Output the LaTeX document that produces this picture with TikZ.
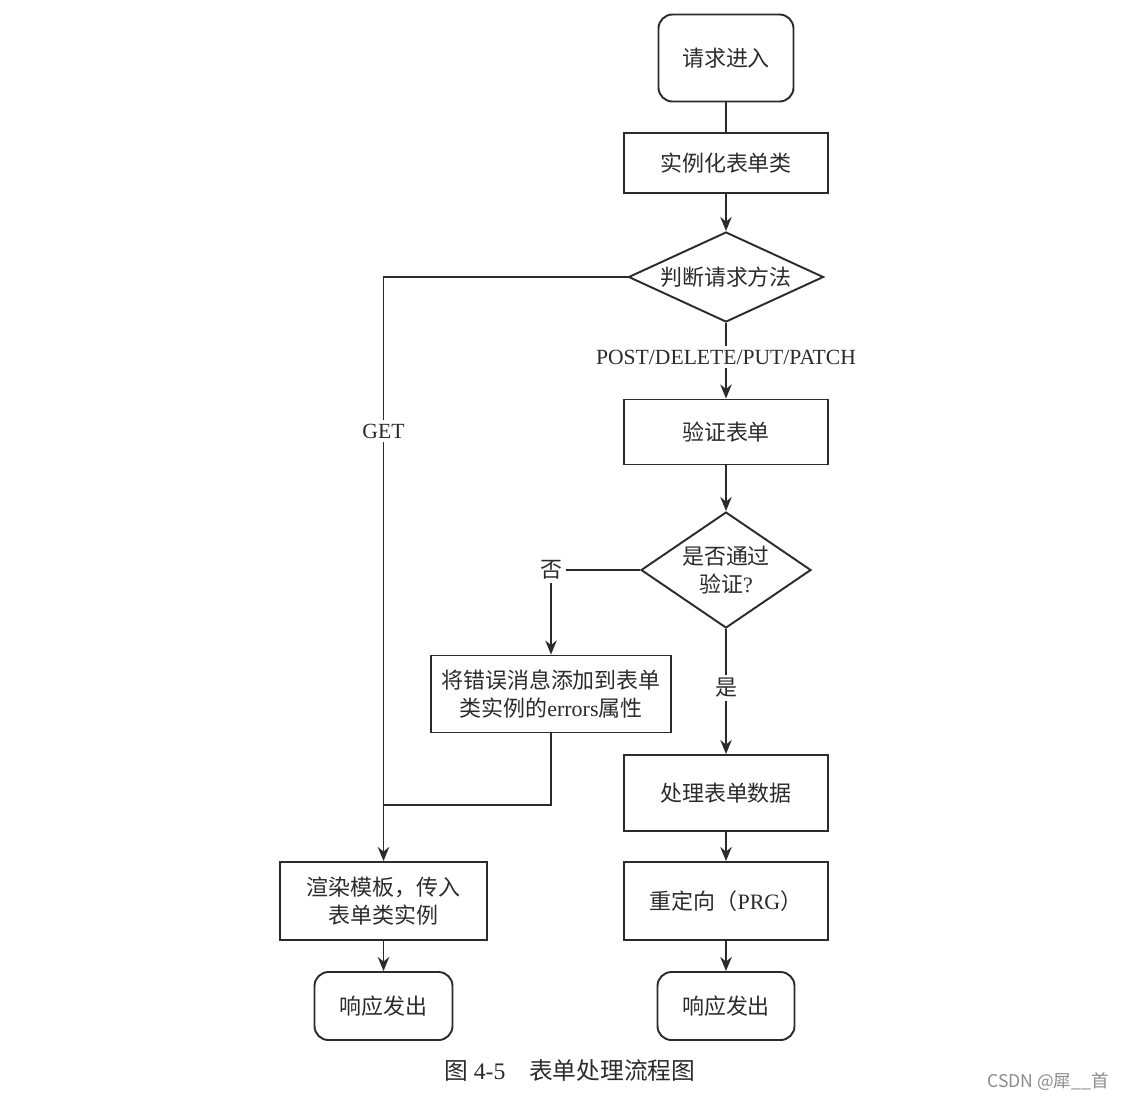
\documentclass[tikz,border=0pt]{standalone}
\usepackage{fontspec}
\setmainfont{Liberation Serif}
\newfontfamily\cjk{Noto Sans CJK SC}
\usetikzlibrary{shapes.geometric,arrows.meta}
\definecolor{ink}{HTML}{2B2B2B}
\begin{document}
\begin{tikzpicture}[
    every node/.style={text=ink, font=\cjk\fontsize{12.5}{15.5}\selectfont, align=center, inner sep=0pt},
    box/.style={draw=ink, line width=1.1pt, rectangle, minimum width=4.08cm},
    term/.style={draw=ink, line width=1.1pt, rectangle, rounded corners=0.28cm},
    decide/.style={draw=ink, line width=1.1pt, diamond},
    flow/.style={draw=ink, line width=1.1pt, -{Stealth[length=8pt,width=6.5pt]}},
    link/.style={draw=ink, line width=1.1pt},
    tag/.style={fill=white, inner sep=2pt}
  ]
  \useasboundingbox (0,0) rectangle (22.52,-22.04);

  % Main column
  \node[term, minimum width=2.7cm, minimum height=1.74cm] (start) at (14.52,-1.16) {请求进入};
  \node[box, minimum height=1.2cm] (inst) at (14.52,-3.26) {实例化表单类};
  \node[decide, minimum width=3.9cm, minimum height=1.8cm, aspect=2.17] (method) at (14.52,-5.54) {判断请求方法};
  \node[box, minimum height=1.3cm] (validate) at (14.52,-8.64) {验证表单};
  \node[decide, minimum width=3.4cm, minimum height=2.32cm, aspect=1.47] (check) at (14.52,-11.4) {是否通过\\验证{\rmfamily ?}};
  \node[box, minimum height=1.52cm] (process) at (14.52,-15.86) {处理表单数据};
  \node[box, minimum height=1.56cm] (redirect) at (14.52,-18.02) {重定向（{\rmfamily PRG}）};
  \node[term, minimum width=2.74cm, minimum height=1.36cm] (respB) at (14.52,-20.12) {响应发出};

  % Error branch and GET column
  \node[box, minimum width=4.8cm, minimum height=1.54cm] (errors) at (11.02,-13.88) {将错误消息添加到表单\\类实例的{\rmfamily errors}属性};
  \node[box, minimum width=4.14cm, minimum height=1.56cm] (render) at (7.67,-18.02) {渲染模板，传入\\表单类实例};
  \node[term, minimum width=2.76cm, minimum height=1.36cm] (respA) at (7.67,-20.12) {响应发出};
  \coordinate (merge) at (7.67,-16.1);

  % Connectors
  \draw[link] (start) -- (inst);
  \draw[flow] (inst) -- (method);
  \draw[flow] (method) -- node[tag, pos=0.45, font=\rmfamily\fontsize{12.3}{14}\selectfont] (post) {POST/DELETE/PUT/PATCH} (validate);
  \draw[flow] (validate) -- (check);
  \draw[flow] (check.west) -| node[tag, pos=0.5] (no) {否} (errors.north);
  \draw[flow] (check.south) -- node[tag, pos=0.47] (yes) {是} (process.north);
  \draw[flow] (process) -- (redirect);
  \draw[flow] (redirect) -- (respB);
  \draw[flow] (method.west) -| node[tag, pos=0.632, font=\rmfamily\fontsize{12.3}{14}\selectfont] (get) {GET} (render.north);
  \draw[link] (errors.south) |- (merge);
  \draw[flow] (render) -- (respA);

  % Caption and mark
  \node[font=\cjk\fontsize{13.5}{16}\selectfont] (caption) at (11.4,-21.4) {图 {\rmfamily 4-5}\quad 表单处理流程图};
  \node[text=black!45, font=\cjk\fontsize{10}{12}\selectfont] (mark) at (20.96,-21.64) {CSDN @犀\_\_首};
\end{tikzpicture}
\end{document}
